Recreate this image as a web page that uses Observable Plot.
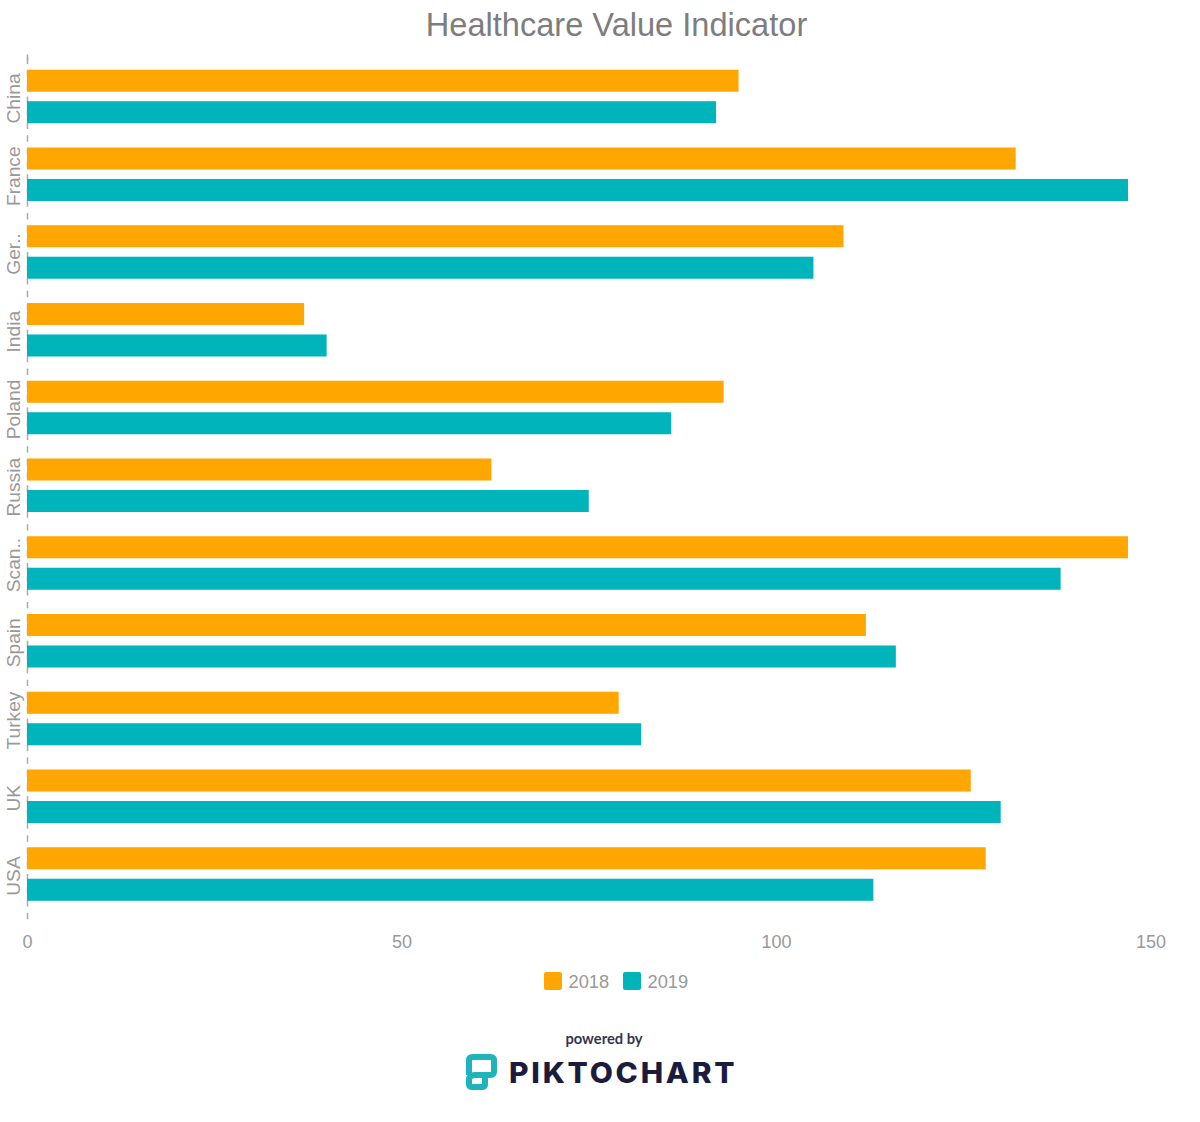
<!DOCTYPE html>
<html>
<head>
<meta charset="utf-8">
<script src="https://cdn.jsdelivr.net/npm/d3@7"></script>
<script src="https://cdn.jsdelivr.net/npm/@observablehq/plot@0.6"></script>
<style>
  html, body { margin: 0; background: #fff; width: 1200px; height: 1122px; overflow: hidden; font-family: "Liberation Sans", Arial, sans-serif; position: relative; }
  #title { position: absolute; left: 0; width: 1233px; top: 6px; text-align: center; font-size: 32.6px; line-height: 38px; color: #7d7d7d; }
  #chart { position: absolute; left: 0; top: 50px; }
  #legend { position: absolute; top: 972px; left: 0; height: 18px; font-size: 18.3px; line-height: 20px; color: #999; }
  #legend span { position: absolute; top: 0; white-space: nowrap; }
  #legend i { position: absolute; top: 0; width: 18px; height: 18px; border-radius: 2px; }
  #powered { position: absolute; left: 504px; width: 200px; top: 1029px; text-align: center; font: 700 14.7px/18px Lato, sans-serif; color: #34344f; }
  #logo { position: absolute; left: 464px; top: 1052px; }
  #brand { position: absolute; left: 509px; top: 1056px; font: 800 28px/34px Inter, sans-serif; letter-spacing: 2.6px; color: #1b1b3d; white-space: nowrap; transform: scaleX(1.07); transform-origin: left center; }
</style>
</head>
<body>
<div id="title">Healthcare Value Indicator</div>
<div id="chart"></div>
<div id="legend"></div>
<div id="powered">powered by</div>
<svg id="logo" width="36" height="40" viewBox="0 0 36 40" fill="none" stroke="#1fb4bb" stroke-width="6" stroke-linejoin="round" stroke-linecap="butt">
  <path d="M5 23 V8.5 Q5 5 8.5 5 H26.5 Q30 5 30 8.5 V19.5 Q30 23 26.5 23 H11 Q5 23 5 28 V32 Q5 35 8.5 35 H18 Q21 35 21 32 V26"/>
</svg>
<div id="brand">PIKTOCHART</div>
<script>
const categories = ["China", "France", "Ger..", "India", "Poland", "Russia", "Scan..", "Spain", "Turkey", "UK", "USA"];
const values2018 = [95, 132, 109, 37, 93, 62, 147, 112, 79, 126, 128];
const values2019 = [92, 147, 105, 40, 86, 75, 138, 116, 82, 130, 113];
const seriesNames = ["2018", "2019"];
const seriesColors = ["#ffa600", "#00b4bc"];
const xTicks = [0, 50, 100, 150];

const rows = categories.flatMap((c, i) => [
  {category: c, series: seriesNames[0], value: values2018[i]},
  {category: c, series: seriesNames[1], value: values2019[i]}
]);
const zero = () => 0;
const same = (d) => d;
const dash = {stroke: "#aaa", strokeWidth: 1.5, strokeDasharray: "6.48,6.48"};

const plot = Plot.plot({
  width: 1200,
  height: 915,
  marginLeft: 27,
  marginRight: 49.5,
  marginTop: 7.6,
  marginBottom: 52.1,
  style: {background: "transparent", fontFamily: "'Liberation Sans', Arial, sans-serif"},
  x: {domain: [0, 150]},
  y: {domain: seriesNames, paddingInner: 0.30, paddingOuter: 0.385, round: false, axis: null},
  fy: {domain: categories, padding: 0, round: false},
  color: {domain: seriesNames, range: seriesColors},
  marks: [
    Plot.ruleX(categories, {x: zero, fy: same, ...dash}),
    Plot.ruleX(["China"], {x: zero, fy: same, insetTop: -3, insetBottom: 75, ...dash}),
    Plot.ruleX(["USA"], {x: zero, fy: same, insetTop: 77.7, insetBottom: -10, ...dash}),
    Plot.barX(rows, {x: "value", y: "series", fy: "category", fill: "series"}),
    Plot.axisFy({anchor: "left", label: null, tickSize: 0, tickRotate: -90, tickPadding: 8, dy: 1.5, fontSize: 19.2, color: "#999"}),
    Plot.axisX(xTicks, {anchor: "bottom", label: null, tickSize: 0, tickPadding: 22, fontSize: 18, color: "#999"})
  ]
});
document.getElementById("chart").append(plot);

const legend = document.getElementById("legend");
const swatchLeft = [544, 623];
seriesNames.forEach((name, i) => {
  const sw = document.createElement("i");
  sw.style.left = swatchLeft[i] + "px";
  sw.style.background = seriesColors[i];
  legend.append(sw);
  const label = document.createElement("span");
  label.style.left = (swatchLeft[i] + 24.5) + "px";
  label.textContent = name;
  legend.append(label);
});
</script>
</body>
</html>
